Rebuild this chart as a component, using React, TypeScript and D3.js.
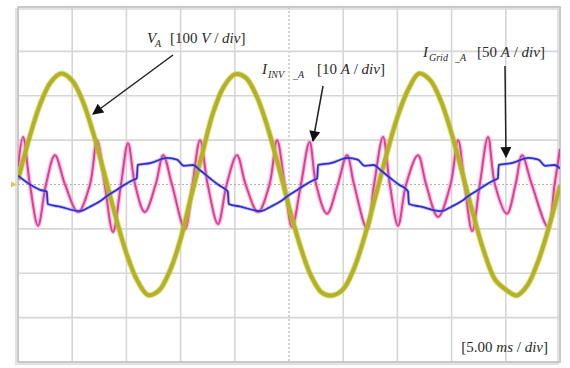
import React from "react";
import * as d3 from "d3";

// scope grid: 10 x 5 ms/div horizontally, 8 div vertically
const timeTicks = [0, 5, 10, 15, 20, 25, 30, 35, 40, 45, 50];
const divTicks = [-4, -3, -2, -1, 0, 1, 2, 3, 4];

// V_A, volts (100 V/div), read every 1 ms
const vaTime = [
  0, 1, 2, 3, 4, 5, 6, 7, 8, 9, 10, 11, 12, 13, 14, 15, 16, 17, 18, 19, 20, 21, 22, 23, 24, 25,
  26, 27, 28, 29, 30, 31, 32, 33, 34, 35, 36, 37, 38, 39, 40, 41, 42, 43, 44, 45, 46, 47, 48, 49, 50,
];
const vaVolts = [
  10, 101, 178, 230, 250, 234, 186, 111, 21, -72, -155, -216, -249, -239, -195, -123, -24, 70, 162, 221,
  248, 241, 200, 131, 44, -50, -136, -204, -243, -250, -236, -189, -115, -25, 68, 152, 214, 250, 236, 189,
  115, 25, -68, -152, -214, -237, -250, -227, -172, -94, -2,
];

// I_INV_A, amps (10 A/div): peaks, troughs and zero crossings
const invTime = [
  0, 0.46, 1.1, 1.85, 2.58, 3.41, 4.34, 5.54, 6.64, 7.29, 8.0, 8.76, 9.5, 10.15, 10.8, 11.7, 12.7, 13.4, 14.2, 15.4, 16.1,
  16.79, 17.5, 18.45, 19.25, 20.2, 21.0, 22.14, 23.2, 23.9, 24.6, 25.28, 26.1, 26.9, 27.5, 28.5, 29.5, 30.35, 31.0, 32.2, 32.85,
  33.67, 34.3, 35.06, 35.8, 36.9, 37.65, 38.75, 39.9, 40.6, 41.2, 41.9, 42.6, 43.36, 44.0, 45.1, 45.9, 46.5, 47.4, 48.9, 49.5, 50,
];
const invAmps = [
  4, 10.7, 0, -9.3, 0, 6.6, 0, -6.2, 0, 10.0, 0, -10.7, 0, 9.3, 0, -6.2, 0, 6.6, 0, -10.0, 0,
  10.0, 0, -8.9, 0, 6.6, 0, -6.2, 0, 10.0, 0, -9.6, 0, 9.6, 0, -6.6, 0, 6.6, 0, -10.0, 0,
  10.7, 0, -9.3, 0, 6.6, 0, -7.3, 0, 10.0, 0, -10.5, 0, 10.7, 0, -6.6, 0, 6.6, 0, -9.6, 0, 8,
];

// I_Grid_A, amps (50 A/div)
const gridTime = [
  0, 1.11, 2.03, 2.66,
  2.74, 3.87, 5.72, 6.64, 7.56, 8.21, 9.13, 9.87, 10.61, 10.96,
  11.04, 12.18, 13.75, 14.67, 15.31, 16.14, 16.79, 17.71, 18.45, 19.19, 19.36,
  19.44, 20.54, 22.39, 23.31, 24.23, 24.88, 25.8, 26.54, 27.28, 27.6,
  27.68, 28.85, 30.42, 31.34, 31.98, 32.81, 33.46, 34.38, 35.12, 35.86, 35.98,
  36.06, 37.2, 39.06, 39.98, 40.9, 41.55, 42.47, 43.21, 43.95, 44.27,
  44.35, 45.52, 47.09, 48.01, 48.65, 49.48, 50,
];
const gridAmps = [
  10, 0, -6, -8,
  -22, -25, -30, -25, -19, -13, -6, 0, 5, 7,
  22, 24, 30, 28, 21, 22, 16, 7, 0, -6, -8,
  -22, -25, -30, -25, -19, -13, -6, 0, 5, 7,
  22, 24, 30, 28, 21, 22, 16, 7, 0, -6, -8,
  -22, -25, -30, -25, -19, -13, -6, 0, 5, 7,
  22, 24, 30, 28, 21, 22, 18,
];

const serif = "'Liberation Serif', 'DejaVu Serif', serif";

export default function App() {
  const width = 570;
  const height = 368;
  const x = d3.scaleLinear().domain([0, 50]).range([18, 560]);
  const y = d3.scaleLinear().domain([-4, 4]).range([362, 7]);

  const trace = (time: number[], perDiv: number, curve: d3.CurveFactory) =>
    d3
      .line<number>()
      .x((_, i) => x(time[i]))
      .y((v) => y(v / perDiv))
      .curve(curve);

  const vaPath = trace(vaTime, 100, d3.curveCatmullRom.alpha(0.5))(vaVolts) || "";
  const invPath = trace(invTime, 10, d3.curveCatmullRom.alpha(0.5))(invAmps) || "";
  const gridPath = trace(gridTime, 50, d3.curveMonotoneX)(gridAmps) || "";

  const x0 = x(0), x1 = x(50), y0 = y(4), y1 = y(-4);

  return (
    <svg
      width={width}
      height={height}
      style={{ position: "absolute", left: 0, top: 0, background: "#fff" }}
    >
      <defs>
        <marker id="head" viewBox="0 0 10 10" refX="9" refY="5" markerWidth="15" markerHeight="11"
          markerUnits="userSpaceOnUse" orient="auto">
          <path d="M0,0 L10,5 L0,10 Z" fill="#111" />
        </marker>
        <clipPath id="plot">
          <rect x={x0} y={y0} width={x1 - x0} height={y1 - y0} />
        </clipPath>
      </defs>

      {/* frame shadow */}
      <rect x={x0 - 2} y={y0 + 2} width={x1 - x0} height={y1 - y0} fill="none" stroke="#e2e2e2" strokeWidth={2} />

      {/* grid */}
      {timeTicks.map((t) => (
        <line key={"v" + t} x1={x(t)} x2={x(t)} y1={y0} y2={y1}
          stroke={t === 25 ? "#a8a8a8" : "#d6d6d6"} strokeWidth={t === 25 ? 1 : 1.6}
          strokeDasharray={t === 25 ? "2,2" : undefined} />
      ))}
      {divTicks.map((d) => (
        <line key={"h" + d} x1={x0} x2={x1} y1={y(d)} y2={y(d)}
          stroke={d === 0 ? "#b8b49c" : "#d6d6d6"} strokeWidth={d === 0 ? 1 : 1.6}
          strokeDasharray={d === 0 ? "2,2" : undefined} />
      ))}
      <rect x={x0} y={y0} width={x1 - x0} height={y1 - y0} fill="none" stroke="#c4c4c4" strokeWidth={1.6} />

      {/* channel marker */}
      <path d={`M${x0 - 7},${y(0) - 3} L${x0 - 1},${y(0)} L${x0 - 7},${y(0) + 3} Z`} fill="#d8c860" />

      <g clipPath="url(#plot)" fill="none" strokeLinejoin="round">
        <path d={invPath} stroke="#f39acb" strokeWidth={4.5} opacity={0.6} />
        <path d={invPath} stroke="#de3e97" strokeWidth={2} />
        <path d={vaPath} stroke="#c6c636" strokeWidth={6} opacity={0.55} />
        <path d={vaPath} stroke="#b2b224" strokeWidth={4} />
        <path d={gridPath} stroke="#8c8cf0" strokeWidth={3.5} opacity={0.45} />
        <path d={gridPath} stroke="#2f2fcf" strokeWidth={1.8} />
      </g>

      {/* annotations */}
      <g fontFamily={serif} fill="#2a2a2a" fontSize={15}>
        <text y={43}>
          <tspan x={147} fontStyle="italic">V</tspan>
          <tspan x={155} dy={4} fontSize={10} fontStyle="italic">A</tspan>
          <tspan x={170} dy={-4}>[100 </tspan>
          <tspan fontStyle="italic">V</tspan>
          <tspan> / </tspan>
          <tspan fontStyle="italic">div</tspan>
          <tspan>]</tspan>
        </text>
        <text y={74}>
          <tspan x={262} fontStyle="italic">I</tspan>
          <tspan x={268} dy={4} fontSize={10} fontStyle="italic">INV</tspan>
          <tspan x={293} fontSize={10} fontStyle="italic">_A</tspan>
          <tspan x={317} dy={-4}>[10 </tspan>
          <tspan fontStyle="italic">A</tspan>
          <tspan> / </tspan>
          <tspan fontStyle="italic">div</tspan>
          <tspan>]</tspan>
        </text>
        <text y={57}>
          <tspan x={423} fontStyle="italic">I</tspan>
          <tspan x={429} dy={4} fontSize={10} fontStyle="italic">Grid</tspan>
          <tspan x={455} fontSize={10} fontStyle="italic">_A</tspan>
          <tspan x={477} dy={-4}>[50 </tspan>
          <tspan fontStyle="italic">A</tspan>
          <tspan> / </tspan>
          <tspan fontStyle="italic">div</tspan>
          <tspan>]</tspan>
        </text>
        <text x={548} y={352} textAnchor="end">
          <tspan>[5.00 </tspan>
          <tspan fontStyle="italic">ms</tspan>
          <tspan> / </tspan>
          <tspan fontStyle="italic">div</tspan>
          <tspan>]</tspan>
        </text>
      </g>

      {/* arrows */}
      <g stroke="#222" strokeWidth={1.5} markerEnd="url(#head)">
        <line x1={173} y1={55} x2={93} y2={114} />
        <line x1={323} y1={86} x2={313} y2={141} />
        <line x1={505} y1={66} x2={506} y2={157} />
      </g>
    </svg>
  );
}
